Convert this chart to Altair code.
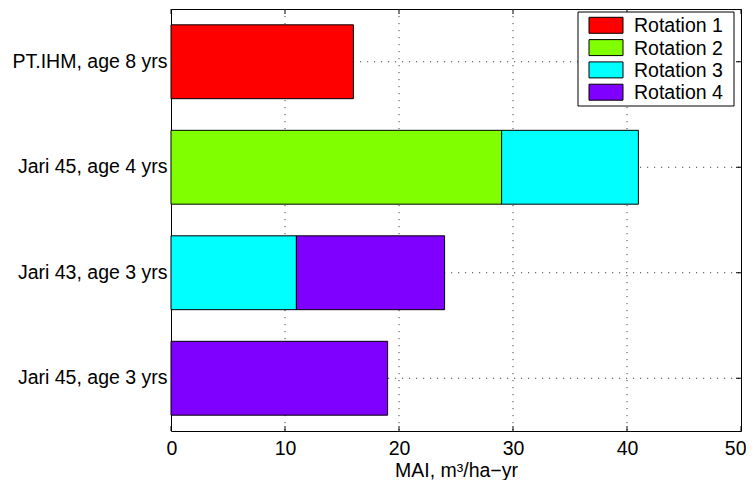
import altair as alt
import pandas as pd

# ---- data ----
categories = ["PT.IHM, age 8 yrs", "Jari 45, age 4 yrs", "Jari 43, age 3 yrs", "Jari 45, age 3 yrs"]
series = ["Rotation 1", "Rotation 2", "Rotation 3", "Rotation 4"]
colors = ["#ff0000", "#80ff00", "#00ffff", "#8000ff"]
rot1 = [16, 0, 0, 0]
rot2 = [0, 29, 0, 0]
rot3 = [0, 12, 11, 0]
rot4 = [0, 0, 13, 19]
x_ticks = [0, 10, 20, 30, 40, 50]
x_grid = [10, 20, 30, 40]

W, H = 570, 422
FONT = "Liberation Sans"
FS = 19.5

# build stacked rows
rows = []
for i, cat in enumerate(categories):
    start = 0
    for s, vals in zip(series, [rot1, rot2, rot3, rot4]):
        v = vals[i]
        if v > 0:
            rows.append({"category": cat, "series": s, "start": start, "end": start + v})
            start += v
bars_df = pd.DataFrame(rows)
cat_df = pd.DataFrame({"category": categories})
xg_df = pd.DataFrame({"v": x_grid})
xt_df = pd.DataFrame({"v": x_ticks})
leg_df = pd.DataFrame({"series": series})
one_df = pd.DataFrame({"a": [0]})

yscale = alt.Scale(type="band", domain=categories, paddingInner=0.3, paddingOuter=0.15)
xscale = alt.Scale(domain=[0, 50], nice=False, zero=False)
cscale = alt.Scale(domain=series, range=colors)

x_axis = alt.Axis(values=x_ticks, tickSize=0, ticks=False, domain=False, grid=False,
                  labelFontSize=FS, labelPadding=8, labelColor="black",
                  labelFlush=True, labelFlushOffset=5,
                  title="MAI, m³/ha−yr", titleFontSize=FS, titleFontWeight="normal",
                  titleColor="black", titlePadding=4)
y_axis = alt.Axis(tickSize=0, ticks=False, domain=False, grid=False,
                  labelFontSize=FS, labelPadding=4, labelColor="black", title=None,
                  labelLimit=300)

def xenc(field):
    return alt.X(field, scale=xscale, axis=x_axis, title="MAI, m³/ha−yr")

def yenc():
    return alt.Y("category:N", scale=yscale, sort=categories, axis=y_axis, title=None)

grid_style = dict(color="#444444", strokeDash=[1.2, 5.8], strokeWidth=1)

grid_v = alt.Chart(xg_df).mark_rule(**grid_style).encode(
    x=xenc("v:Q"), y=alt.value(0), y2=alt.value(H),
)
grid_h = alt.Chart(cat_df).mark_rule(**grid_style).encode(
    y=yenc(), x=alt.value(0), x2=alt.value(W),
)
tick_bottom = alt.Chart(xt_df).mark_rule(color="black", strokeWidth=1).encode(
    x=xenc("v:Q"), y=alt.value(H - 5), y2=alt.value(H),
)
tick_top = alt.Chart(xt_df).mark_rule(color="black", strokeWidth=1).encode(
    x=xenc("v:Q"), y=alt.value(0), y2=alt.value(5),
)
tick_left = alt.Chart(cat_df).mark_rule(color="black", strokeWidth=1).encode(
    y=yenc(), x=alt.value(0), x2=alt.value(5),
)
tick_right = alt.Chart(cat_df).mark_rule(color="black", strokeWidth=1).encode(
    y=yenc(), x=alt.value(W - 5), x2=alt.value(W),
)

bars = alt.Chart(bars_df).mark_bar(stroke="black", strokeWidth=1, opacity=1).encode(
    x=xenc("start:Q"),
    x2="end:Q",
    y=yenc(),
    color=alt.Color("series:N", scale=cscale, legend=None),
)

main = alt.layer(grid_v, grid_h, tick_bottom, tick_top, tick_left, tick_right, bars)

# ---- legend drawn as marks ----
ly = alt.Y("series:N", scale=alt.Scale(type="point", domain=series, range=[16.3, 83.2], padding=0), axis=None)
leg_box = alt.Chart(one_df).mark_rect(fill="white", stroke="black", strokeWidth=1).encode(
    x=alt.value(407), x2=alt.value(563), y=alt.value(3), y2=alt.value(97),
)
leg_sw = alt.Chart(leg_df).mark_point(
    shape="M-1,-0.47H1V0.47H-1Z", size=1156, filled=True, opacity=1,
    stroke="black", strokeWidth=1,
).encode(
    x=alt.value(435), y=ly,
    color=alt.Color("series:N", scale=cscale, legend=None),
)
leg_tx = alt.Chart(leg_df).mark_text(align="left", baseline="middle", fontSize=FS, font=FONT,
                                     color="black", dy=1).encode(
    x=alt.value(463), y=ly, text="series:N",
)
legend = alt.layer(leg_box, leg_sw, leg_tx)

chart = alt.layer(main, legend).resolve_scale(y="independent").properties(
    width=W, height=H,
    autosize=alt.AutoSizeParams(type="none"),
    padding={"left": 163, "top": 1, "right": 5, "bottom": 49},
).configure(font=FONT).configure_view(stroke="black", strokeWidth=1).configure_axis(
    labelFont=FONT, titleFont=FONT
)

chart.save("out.html", embed_options={"renderer": "svg", "actions": False})
